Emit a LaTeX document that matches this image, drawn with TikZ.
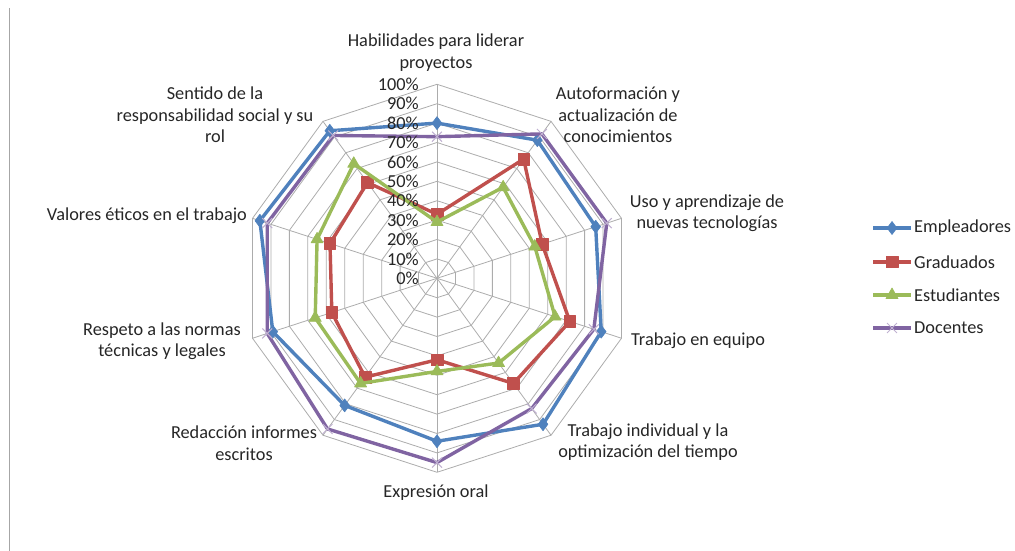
\documentclass[tikz,border=0pt]{standalone}
\usepackage{fontspec}
\setmainfont{Carlito}
\usetikzlibrary{positioning}
\usetikzlibrary{plotmarks}
\definecolor{empcol}{HTML}{4F81BD}
\definecolor{gradcol}{HTML}{C0504D}
\definecolor{estcol}{HTML}{9BBB59}
\definecolor{doccol}{HTML}{8064A2}
\tikzset{
 rejilla/.style={gray!65,line width=0.8pt},
 etiqueta/.style={align=center,inner sep=0pt,text=black!85,font=\fontsize{18.3}{21.5}\selectfont},
 empleadores/.style={empcol,line width=3.4pt,line join=round,mark=diamond*,mark size=6.5pt,mark options={solid,fill=empcol,line width=0.6pt}},
 graduados/.style={gradcol,line width=3.4pt,line join=round,mark=square*,mark size=5.8pt,mark options={solid,fill=gradcol,line width=0.6pt}},
 estudiantes/.style={estcol,line width=3.4pt,line join=round,mark=triangle*,mark size=7pt,mark options={solid,fill=estcol,line width=0.6pt}},
 docentes/.style={doccol,line width=3.4pt,line join=round,mark=x,mark size=7pt,mark options={solid,doccol!50,line width=1pt}}
}
\begin{document}
\begin{tikzpicture}[x=1pt,y=1pt]
 \useasboundingbox (0,0) rectangle (1015,551);
 \draw[gray!70,line width=0.8pt](9,0)--(9,543);
 \begin{scope}[shift={(437,272.7)},x=1.94pt,y=1.94pt]
 % rejilla
 \foreach \k in {10,20,...,100}
  \draw[rejilla](90:\k) \foreach \a in {54,18,...,-234} {--(\a:\k)} --cycle;
 \foreach \a in {90,54,...,-234}
  \draw[rejilla](0,0)--(\a:100);
 % series
 \draw[empleadores] plot coordinates {(90:80) (54:88) (18:86) (-18:89) (-54:93) (-90:84) (-126:81) (-162:89) (-198:96) (-234:94)} --cycle;
 \draw[graduados] plot coordinates {(90:33) (54:76) (18:57) (-18:72) (-54:67) (-90:42) (-126:63) (-162:57) (-198:58) (-234:61)} --cycle;
 \draw[estudiantes] plot coordinates {(90:29) (54:58) (18:53) (-18:64) (-54:54) (-90:48) (-126:67) (-162:66) (-198:65) (-234:73)} --cycle;
 \draw[docentes] plot coordinates {(90:73) (54:92) (18:92) (-18:85) (-54:83) (-90:95) (-126:96) (-162:92) (-198:92) (-234:91)} --cycle;
 \end{scope}
 % porcentajes
 \foreach \k in {0,10,...,100}
  \node[etiqueta,anchor=east](p\k) at (419,{272.7+1.94*\k}) {\k\%};
 % ejes
 \node[etiqueta](lider) at (436,498.5) {Habilidades para liderar\\proyectos};
 \node[etiqueta](autof) at (618,436) {Autoformación y\\actualización de\\conocimientos};
 \node[etiqueta](tecno) at (707,338) {Uso y aprendizaje de\\nuevas tecnologías};
 \node[etiqueta,anchor=west](equipo) at (631,210) {Trabajo en equipo};
 \node[etiqueta](indiv) at (648,109) {Trabajo individual y la\\optimización del tiempo};
 \node[etiqueta](oral) at (436,58) {Expresión oral};
 \node[etiqueta](redac) at (244,108) {Redacción informes\\escritos};
 \node[etiqueta](normas) at (162,210) {Respeto a las normas\\técnicas y legales};
 \node[etiqueta,anchor=east](etica) at (247,335) {Valores éticos en el trabajo};
 \node[etiqueta](social) at (215,436) {Sentido de la\\responsabilidad social y su\\rol};
 % leyenda
 \foreach \s/\n/\y in {empleadores/Empleadores/323,graduados/Graduados/289,estudiantes/Estudiantes/256,docentes/Docentes/223}{
  \draw[\s,mark indices={2}] plot coordinates {(873,\y) (892,\y) (911,\y)};
  \node[etiqueta,anchor=west](\n) at (914,\y) {\n};
 }
\end{tikzpicture}
\end{document}
